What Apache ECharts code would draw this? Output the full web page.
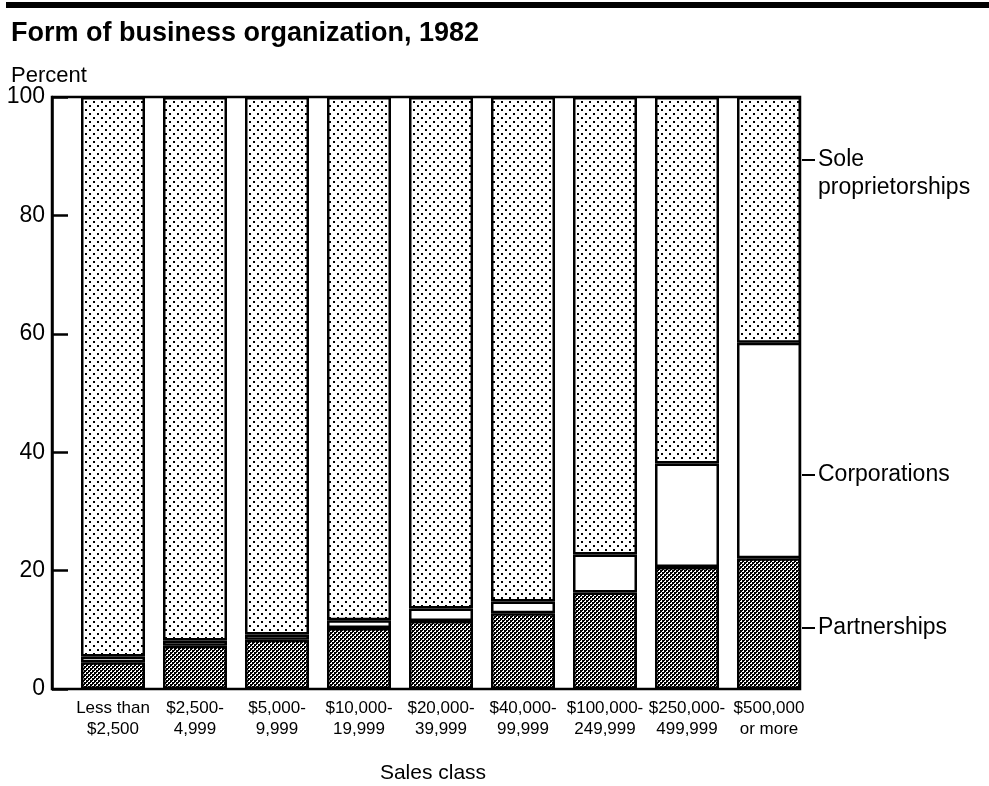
<!DOCTYPE html>
<html>
<head>
<meta charset="utf-8">
<script src="https://cdn.jsdelivr.net/npm/echarts@6/dist/echarts.min.js"></script>
<style>
  html, body { margin: 0; padding: 0; background: #fff; }
  #chart { width: 989px; height: 786px; }
</style>
</head>
<body>
<div id="chart"></div>
<script>
// sales classes and shares (percent of firms)
let categories = ['Less than\n$2,500', '$2,500-\n4,999', '$5,000-\n9,999', '$10,000-\n19,999',
    '$20,000-\n39,999', '$40,000-\n99,999', '$100,000-\n249,999', '$250,000-\n499,999', '$500,000\nor more'];
let partnerships = [4.5, 7.3, 8.3, 10.3, 11.5, 12.8, 16.3, 20.6, 22.1];
let corporations = [1.0, 0.9, 0.9, 1.3, 2.1, 2.0, 6.4, 17.5, 36.4];
let soleProps = [94.5, 91.8, 90.8, 88.4, 86.4, 85.2, 77.3, 61.9, 41.5];
let yTicks = [0, 20, 40, 60, 80, 100];

const font = '"Liberation Sans", Arial, Helvetica, sans-serif';

// dotted fill for sole proprietorships
function dotPattern() {
    let c = document.createElement('canvas');
    c.width = 8; c.height = 8;
    let ctx = c.getContext('2d');
    ctx.fillStyle = '#fff';
    ctx.fillRect(0, 0, 8, 8);
    ctx.fillStyle = '#000';
    ctx.fillRect(1, 1, 2, 2);
    ctx.fillRect(5, 5, 2, 2);
    return c;
}

// dense checkered fill for partnerships
function checkPattern() {
    let c = document.createElement('canvas');
    c.width = 4; c.height = 4;
    let ctx = c.getContext('2d');
    ctx.fillStyle = '#000';
    ctx.fillRect(0, 0, 4, 4);
    ctx.fillStyle = '#fff';
    ctx.fillRect(0, 0, 2, 2);
    ctx.fillRect(2, 2, 2, 2);
    ctx.fillStyle = '#000';
    ctx.fillRect(0, 0, 1, 1);
    ctx.fillRect(2, 2, 1, 1);
    return c;
}

let chart = echarts.init(document.getElementById('chart'));

let barStyle = (fill) => ({
    color: fill,
    borderColor: '#000',
    borderWidth: 2.5
});

let option = {
    animation: false,
    backgroundColor: '#fff',
    textStyle: { fontFamily: font, color: '#000' },
    title: [
        {
            text: 'Form of business organization, 1982',
            left: 6, top: 15,
            textStyle: { fontFamily: font, fontSize: 27, fontWeight: 'bold', color: '#000' }
        },
        {
            text: 'Percent',
            left: 6, top: 60,
            textStyle: { fontFamily: font, fontSize: 22, fontWeight: 'normal', color: '#000' }
        }
    ],
    grid: [
        // bars
        { left: 72, right: 179, top: 97, bottom: 97, outerBoundsMode: 'none', containLabel: false },
        // frame and percent scale
        { left: 52, right: 189, top: 97, bottom: 97, outerBoundsMode: 'none', containLabel: false,
          show: true, borderColor: '#000', borderWidth: 2.5, backgroundColor: 'transparent' }
    ],
    xAxis: [
        {
            type: 'category',
            gridIndex: 0,
            data: categories,
            axisLine: { show: false },
            axisTick: { show: false },
            axisLabel: { interval: 0, margin: 9, fontSize: 17, lineHeight: 21, color: '#000', fontFamily: font }
        },
        {
            type: 'value',
            gridIndex: 1,
            min: 0, max: 1,
            axisLine: { show: false },
            axisTick: { show: false },
            axisLabel: { show: false },
            splitLine: { show: false },
            name: 'Sales class',
            nameLocation: 'middle',
            nameGap: 74,
            nameTextStyle: { fontSize: 21, color: '#000', fontFamily: font, padding: [0, 0, 0, 14] }
        }
    ],
    yAxis: [
        {
            type: 'value',
            gridIndex: 0,
            min: 0, max: 100,
            show: false
        },
        {
            type: 'value',
            gridIndex: 1,
            min: yTicks[0], max: yTicks[yTicks.length - 1], interval: 20,
            axisLine: { show: true, lineStyle: { color: '#000', width: 2.5 } },
            axisTick: { show: true, inside: true, length: 16, lineStyle: { color: '#000', width: 2.5 } },
            axisLabel: { fontSize: 23, margin: 7, color: '#000', fontFamily: font },
            splitLine: { show: false }
        }
    ],
    series: [
        {
            name: 'Partnerships',
            type: 'bar', stack: 'all',
            xAxisIndex: 0, yAxisIndex: 0,
            barWidth: 64,
            itemStyle: barStyle({ image: checkPattern(), repeat: 'repeat' }),
            data: partnerships
        },
        {
            name: 'Corporations',
            type: 'bar', stack: 'all',
            xAxisIndex: 0, yAxisIndex: 0,
            barWidth: 64,
            itemStyle: barStyle('#fff'),
            data: corporations
        },
        {
            name: 'Sole proprietorships',
            type: 'bar', stack: 'all',
            xAxisIndex: 0, yAxisIndex: 0,
            barWidth: 64,
            itemStyle: barStyle({ image: dotPattern(), repeat: 'repeat' }),
            data: soleProps
        }
    ],
    graphic: [
        // heavy rule at the top
        { type: 'rect', shape: { x: 6, y: 2, width: 983, height: 6 }, style: { fill: '#000' } },
        // right-hand series labels
        { type: 'line', shape: { x1: 802, y1: 160, x2: 815, y2: 160 }, style: { stroke: '#000', lineWidth: 2 } },
        { type: 'text', x: 818, y: 160, style: { text: 'Sole', font: '23px ' + font, fill: '#000', verticalAlign: 'middle' } },
        { type: 'text', x: 818, y: 188, style: { text: 'proprietorships', font: '23px ' + font, fill: '#000', verticalAlign: 'middle' } },
        { type: 'line', shape: { x1: 802, y1: 475, x2: 815, y2: 475 }, style: { stroke: '#000', lineWidth: 2 } },
        { type: 'text', x: 818, y: 475, style: { text: 'Corporations', font: '23px ' + font, fill: '#000', verticalAlign: 'middle' } },
        { type: 'line', shape: { x1: 802, y1: 628, x2: 815, y2: 628 }, style: { stroke: '#000', lineWidth: 2 } },
        { type: 'text', x: 818, y: 628, style: { text: 'Partnerships', font: '23px ' + font, fill: '#000', verticalAlign: 'middle' } }
    ]
};

chart.setOption(option);
</script>
</body>
</html>
